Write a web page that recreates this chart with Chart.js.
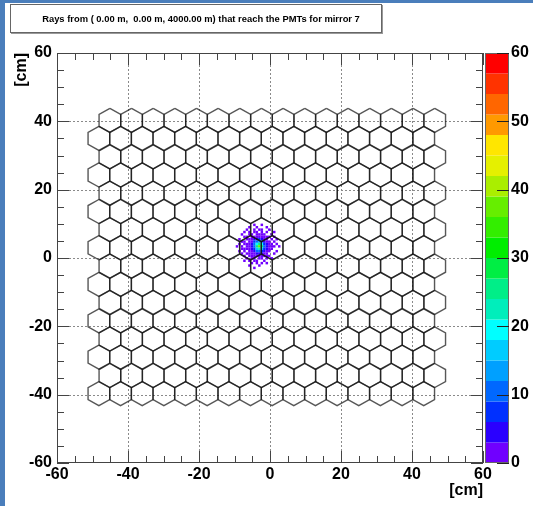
<!DOCTYPE html>
<html>
<head>
<meta charset="utf-8">
<script src="https://cdn.jsdelivr.net/npm/chart.js@4.4.0/dist/chart.umd.min.js"></script>
<style>
  html, body { margin: 0; padding: 0; background: #4a7ebb; width: 533px; height: 506px; overflow: hidden; }
  #frame { position: absolute; left: 5px; top: 3px; width: 528px; height: 503px; background: #fff; }
  #plot { position: absolute; left: 0; top: 0; }
  #title {
    position: absolute; left: 5px; top: 1px; width: 360px; height: 27px; padding-left: 10px;
    border: 1px solid #666; box-shadow: 1px 1px 0 #999; background: #fff;
    font: bold 9.4px "Liberation Sans", Arial, sans-serif; color: #000;
    text-align: center; line-height: 27px; white-space: pre;
  }
</style>
</head>
<body>
<div id="frame">
  <canvas id="plot" width="528" height="503"></canvas>
  <div id="title">Rays from ( 0.00 m,  0.00 m, 4000.00 m) that reach the PMTs for mirror 7</div>
</div>
<script>
// Axis ranges / ticks (cm)
const axisMin = -60, axisMax = 60;
const majorStep = 20, minorStep = 5;
const zMin = 0, zMax = 60, zStep = 10;

// Colour palette, from 0 (bottom) to 60 (top)
const paletteColors = [
    '#7000ff', '#2a00ff', '#0030ff', '#0068ff', '#00a0ff',
    '#00ccff', '#00ffff', '#00eebb', '#00ee88', '#00ee44',
    '#00ee00', '#33ee00', '#66ee00', '#aaee00', '#e5f000',
    '#ffe600', '#ff9900', '#ff6600', '#ff3300', '#ff0000'
];

// PMT camera: hexagon centres (cm)
const pmtRowY = [40.3, 35.0, 29.6, 24.3, 19.0, 13.6, 8.3, 3.0, -2.4, -7.7, -13.0, -18.4, -23.7, -29.0, -34.4, -39.7];
const pmtColXEven = [-45.1, -39.0, -32.9, -26.8, -20.7, -14.6, -8.5, -2.4, 3.7, 9.8, 15.9, 22.0, 28.1, 34.2, 40.3, 46.4];
const pmtColXOdd = [-48.2, -42.1, -36.0, -29.9, -23.8, -17.7, -11.6, -5.5, 0.6, 6.7, 12.8, 18.9, 25.0, 31.1, 37.2, 43.3];
const pmtPitch = 6.1;

// Ray hits around the spot: bins of 0.7 cm, rows from top to bottom
const spotX0 = -9.65, spotY0 = -3.25, spotBin = 0.7;
const spotCounts = [
    [0,0,0,0,0,0,0,1,0,0,1,0,0,0,0,0,0,0,0],
    [0,0,0,0,0,1,0,0,1,0,0,0,1,0,0,0,0,0,0],
    [0,0,0,0,1,0,0,1,0,1,1,0,0,1,0,0,0,0,0],
    [0,0,0,1,0,1,0,1,1,0,1,0,1,0,0,1,0,0,0],
    [0,0,1,0,0,1,1,0,2,1,1,1,0,0,1,0,0,0,0],
    [0,0,0,1,1,0,1,2,2,2,1,2,1,1,0,1,0,0,0],
    [0,1,0,0,1,1,2,3,5,6,4,2,1,0,1,0,1,0,0],
    [0,0,1,1,0,2,2,6,10,12,9,5,2,1,0,1,0,0,0],
    [0,1,0,1,1,2,4,9,19,24,18,8,3,1,1,0,1,0,0],
    [1,0,1,0,2,2,5,11,25,36,24,10,4,2,1,1,0,1,0],
    [0,0,1,1,1,2,3,8,17,22,16,8,3,1,1,0,0,0,0],
    [0,1,0,1,0,1,2,5,9,11,8,4,2,1,0,0,1,0,0],
    [0,0,1,0,1,1,2,2,4,5,3,2,1,0,0,1,0,0,0],
    [0,0,0,1,0,1,1,2,2,2,1,1,1,1,0,0,0,0,0],
    [0,0,0,0,1,0,1,1,0,1,1,0,1,0,1,0,0,0,0],
    [0,0,0,1,0,1,0,1,1,0,0,1,0,0,0,0,0,0,0],
    [0,0,0,0,0,0,1,0,1,0,1,0,1,0,0,0,0,0,0],
    [0,0,0,0,0,1,0,0,0,1,0,0,0,0,0,0,0,0,0],
    [0,0,0,0,0,0,0,1,0,0,0,0,0,0,0,0,0,0,0]
];

const tickFont = { family: '"Liberation Sans", Arial, sans-serif', size: 16, weight: 'bold' };

function colorFor(v) {
    const band = Math.floor((v - zMin) / (zMax - zMin) * paletteColors.length);
    return paletteColors[Math.max(0, Math.min(paletteColors.length - 1, band))];
}

// hexagon outline (pointy top) around a PMT centre
const hexR = pmtPitch / Math.sqrt(3);
const hexAngles = [90, 30, -30, -90, -150, 150, 90];
function hexOutline(cx, cy) {
    return hexAngles.map(a => ({
        x: cx + hexR * Math.cos(a * Math.PI / 180),
        y: cy + hexR * Math.sin(a * Math.PI / 180)
    }));
}

const datasets = [];
pmtRowY.forEach((y, r) => {
    const xs = r % 2 === 0 ? pmtColXEven : pmtColXOdd;
    xs.forEach(x => {
        datasets.push({
            data: hexOutline(x, y),
            showLine: true,
            borderColor: 'rgba(15,15,15,0.7)',
            borderWidth: 1.4,
            pointRadius: 0,
            fill: false
        });
    });
});

const spotPoints = [];
spotCounts.forEach((row, r) => {
    row.forEach((v, c) => {
        if (v > 0) spotPoints.push({
            x: spotX0 + (c + 0.5) * spotBin,
            y: spotY0 + (spotCounts.length - r - 0.5) * spotBin,
            v: v
        });
    });
});

function cellRadius(chart) {
    const s = chart.scales.x;
    if (!s) return 2;
    const w = Math.abs(s.getPixelForValue(spotBin) - s.getPixelForValue(0));
    return w / Math.SQRT2;
}

datasets.push({
    data: spotPoints,
    showLine: false,
    pointStyle: 'rect',
    pointRadius: ctx => cellRadius(ctx.chart),
    backgroundColor: ctx => ctx.raw ? colorFor(ctx.raw.v) : 'transparent',
    borderWidth: 0
});

// Frame, dotted grid, inner ticks and colour palette (ROOT style)
const rootFrame = {
    id: 'rootFrame',
    beforeDatasetsDraw(chart) {
        const { ctx, chartArea: a, scales: { x, y } } = chart;
        ctx.save();
        ctx.strokeStyle = '#8a8a8a';
        ctx.lineWidth = 1;
        ctx.setLineDash([2, 2]);
        x.ticks.forEach(t => {
            if (t.value <= x.min || t.value >= x.max) return;
            const px = Math.round(x.getPixelForValue(t.value)) + 0.5;
            ctx.beginPath(); ctx.moveTo(px, a.top); ctx.lineTo(px, a.bottom); ctx.stroke();
        });
        y.ticks.forEach(t => {
            if (t.value <= y.min || t.value >= y.max) return;
            const py = Math.round(y.getPixelForValue(t.value)) + 0.5;
            ctx.beginPath(); ctx.moveTo(a.left, py); ctx.lineTo(a.right, py); ctx.stroke();
        });
        ctx.restore();
    },
    afterDatasetsDraw(chart) {
        const { ctx, chartArea: a, scales: { x, y } } = chart;
        ctx.save();
        ctx.strokeStyle = '#444';
        ctx.lineWidth = 1;
        ctx.strokeRect(a.left + 0.5, a.top + 0.5, a.right - a.left - 1, a.bottom - a.top - 1);
        ctx.beginPath();
        for (let v = axisMin; v <= axisMax; v += minorStep) {
            const len = v % majorStep === 0 ? 12 : 7;
            const px = Math.round(x.getPixelForValue(v)) + 0.5;
            const py = Math.round(y.getPixelForValue(v)) + 0.5;
            ctx.moveTo(px, a.bottom); ctx.lineTo(px, a.bottom - len);
            ctx.moveTo(px, a.top); ctx.lineTo(px, a.top + len);
            ctx.moveTo(a.left, py); ctx.lineTo(a.left + len, py);
            ctx.moveTo(a.right, py); ctx.lineTo(a.right - len, py);
        }
        ctx.stroke();
        ctx.restore();
    },
    afterDraw(chart) {
        const { ctx } = chart;
        const z = chart.scales.z;
        const left = z.left + 2, right = z.left + 26;
        const n = paletteColors.length;
        const step = (zMax - zMin) / n;
        ctx.save();
        paletteColors.forEach((c, i) => {
            const y0 = z.getPixelForValue(zMin + i * step);
            const y1 = z.getPixelForValue(zMin + (i + 1) * step);
            ctx.fillStyle = c;
            ctx.fillRect(left, y1, right - left, y0 - y1);
        });
        ctx.strokeStyle = '#666';
        ctx.lineWidth = 1;
        ctx.strokeRect(left + 0.5, z.top + 0.5, right - left - 1, z.bottom - z.top - 1);
        ctx.strokeStyle = '#222';
        ctx.beginPath();
        for (let v = zMin; v <= zMax; v += zStep) {
            const py = Math.round(z.getPixelForValue(v)) + 0.5;
            ctx.moveTo(right, py); ctx.lineTo(right - 12, py);
        }
        ctx.stroke();
        ctx.restore();
    }
};

new Chart(document.getElementById('plot'), {
    type: 'scatter',
    data: { datasets: datasets },
    options: {
        responsive: false,
        animation: false,
        devicePixelRatio: 1,
        events: [],
        layout: { padding: { top: 50, left: 0, right: 0, bottom: 0 } },
        plugins: { legend: { display: false }, tooltip: { enabled: false } },
        scales: {
            x: {
                type: 'linear', min: axisMin, max: axisMax,
                ticks: { stepSize: majorStep, font: tickFont, color: '#000', padding: 2, maxRotation: 0, autoSkip: false },
                grid: { display: false, drawTicks: false },
                border: { display: false },
                title: { display: true, text: '[cm]', align: 'end', font: tickFont, color: '#000', padding: { top: 0, bottom: 6 } },
                afterFit: s => { s.height = 43; }
            },
            y: {
                type: 'linear', position: 'left', min: axisMin, max: axisMax,
                ticks: { stepSize: majorStep, font: tickFont, color: '#000', padding: 5, autoSkip: false },
                grid: { display: false, drawTicks: false },
                border: { display: false },
                title: { display: true, text: '[cm]', align: 'end', font: tickFont, color: '#000', padding: { top: 7, bottom: 0 } },
                afterFit: s => { s.width = 52; }
            },
            z: {
                type: 'linear', position: 'right', min: zMin, max: zMax,
                ticks: { stepSize: zStep, font: tickFont, color: '#000', padding: 28, autoSkip: false },
                grid: { display: false, drawTicks: false },
                border: { display: false },
                afterFit: s => { s.width = 50; }
            }
        }
    },
    plugins: [rootFrame]
});
</script>
</body>
</html>
